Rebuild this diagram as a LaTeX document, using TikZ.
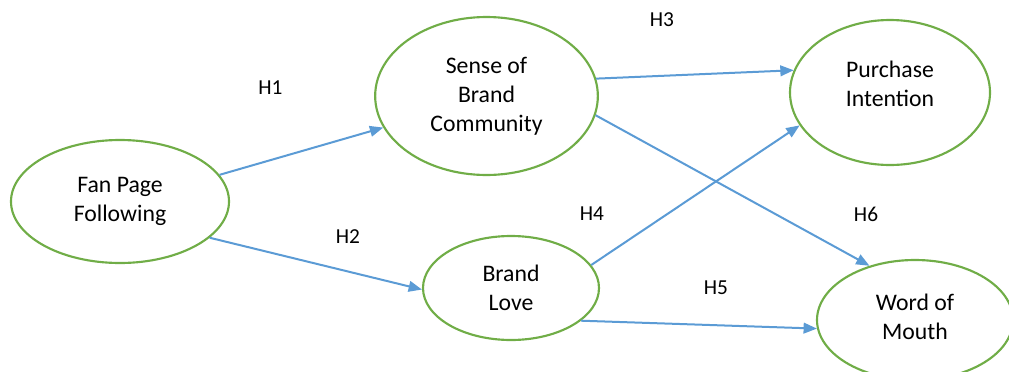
\documentclass[tikz,border=0pt]{standalone}
\usepackage{fontspec}
\setmainfont{Carlito}
\usetikzlibrary{shapes.geometric,arrows.meta}

\begin{document}
\begin{tikzpicture}[x=0.75pt,y=-0.75pt]
    \definecolor{mygreen}{RGB}{112,173,71}
    \definecolor{myblue}{RGB}{91,155,213}

    \tikzstyle{construct}=[ellipse,draw=mygreen,line width=1.6pt,inner sep=0pt,align=center,
        font=\fontsize{17.8pt}{21.75pt}\selectfont]  % the constructs
    \tikzstyle{link}=[draw=myblue,line width=1.5pt,-{Triangle[length=10pt,width=8pt]}]  % the paths
    \tikzstyle{hyp}=[inner sep=0pt,font=\fontsize{16pt}{19pt}\selectfont]  % hypothesis labels

    \useasboundingbox (0,0) rectangle (1009,371);

    % constructs
    \node[construct,minimum width=163.5pt,minimum height=92.25pt] (fan) at (120,201.5) {Fan Page\\Following};
    \node[construct,minimum width=167pt,minimum height=118.5pt] (sense) at (486.5,96) {Sense of\\Brand\\Community};
    \node[construct,minimum width=132pt,minimum height=78pt] (love) at (511,288) {Brand\\Love};
    \node[construct,minimum width=150pt,minimum height=108.75pt,text depth=13.5pt] (purchase) at (890,92.5) {Purchase\\Intention};
    \node[construct,minimum width=147pt,minimum height=90pt,text depth=4.5pt] (wom) at (915,320) {Word of\\Mouth};

    % paths
    \draw[link] (fan.15) -- (sense.197);
    \draw[link] (fan.-22) -- (love.181);
    \draw[link] (sense.9) -- (purchase.167);
    \draw[link] (love.16) -- (purchase.200);
    \draw[link] (love.-25) -- (wom.185);
    \draw[link] (sense.-10) -- (wom.130);

    % hypotheses
    \node[hyp] (h1) at (270.5,88) {H1};
    \node[hyp] (h2) at (348,237) {H2};
    \node[hyp] (h3) at (662,20) {H3};
    \node[hyp] (h4) at (592,214) {H4};
    \node[hyp] (h5) at (716,288) {H5};
    \node[hyp] (h6) at (866,214) {H6};
\end{tikzpicture}
\end{document}
